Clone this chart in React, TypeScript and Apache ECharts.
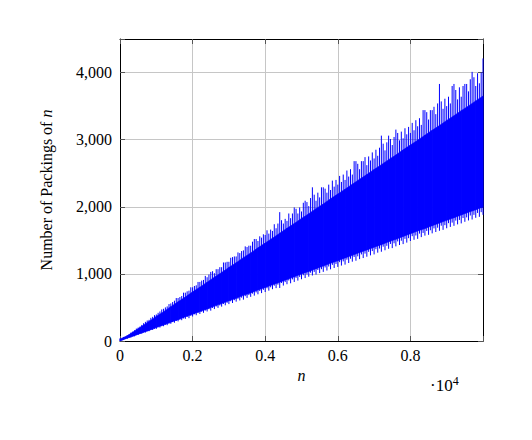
import React, { useEffect, useRef } from "react";
import * as echarts from "echarts";

// Tick labels
const xTickValues = [0, 2000, 4000, 6000, 8000];
const yTickLabels = ["0", "1,000", "2,000", "3,000", "4,000"];

// Oscillation extremes sampled at n = 0, 100, ..., 10000
const hairHigh = [
  40, 60, 85, 125, 160, 200, 240, 285, 315, 360,
  395, 440, 480, 515, 560, 600, 640, 670, 720, 750,
  800, 830, 880, 910, 950, 1030, 1010, 1070, 1100, 1170,
  1180, 1250, 1260, 1310, 1350, 1400, 1420, 1520, 1490, 1540,
  1580, 1600, 1640, 1680, 1920, 1750, 1790, 1830, 1990, 1900,
  1930, 2090, 2010, 2290, 2090, 2140, 2290, 2210, 2250, 2300,
  2330, 2370, 2400, 2450, 2480, 2680, 2560, 2680, 2620, 2690,
  2720, 2760, 3060, 2840, 3060, 2920, 3150, 2990, 3020, 3080,
  3100, 3140, 3200, 3220, 3440, 3300, 3440, 3380, 3830, 3460,
  3500, 3540, 3830, 3600, 3640, 3830, 3720, 4010, 3800, 3840,
  4210,
];
const hairLow = [
  0, 16, 34, 52, 70, 90, 108, 126, 146, 164,
  180, 200, 220, 236, 256, 272, 292, 310, 330, 340,
  365, 384, 402, 420, 440, 452, 476, 494, 512, 532,
  550, 566, 586, 604, 616, 642, 658, 676, 696, 714,
  730, 750, 772, 788, 790, 826, 846, 860, 880, 900,
  920, 938, 958, 976, 990, 1012, 1030, 1050, 1068, 1088,
  1104, 1124, 1138, 1162, 1182, 1196, 1220, 1236, 1256, 1276,
  1290, 1316, 1330, 1352, 1374, 1384, 1410, 1430, 1444, 1466,
  1490, 1508, 1522, 1548, 1570, 1582, 1604, 1624, 1642, 1656,
  1680, 1700, 1716, 1738, 1752, 1776, 1796, 1810, 1836, 1850,
  1880,
];
// Oscillation extremes sampled at n = 50, 150, ..., 9950
const hairHigh2 = [
  35, 62, 100, 140, 185, 215, 265, 305, 345, 385,
  420, 470, 500, 550, 580, 640, 655, 720, 740, 800,
  820, 880, 900, 970, 990, 1040, 1070, 1100, 1170, 1180,
  1240, 1260, 1320, 1340, 1410, 1420, 1480, 1520, 1560, 1590,
  1650, 1660, 1740, 1750, 1800, 1820, 1900, 1900, 1970, 1990,
  2060, 2070, 2130, 2180, 2210, 2290, 2270, 2330, 2390, 2400,
  2460, 2480, 2540, 2560, 2680, 2640, 2680, 2740, 2750, 2810,
  2850, 2880, 2940, 2960, 3010, 3040, 3100, 3120, 3170, 3190,
  3250, 3290, 3320, 3440, 3410, 3440, 3490, 3540, 3570, 3610,
  3640, 3800, 3740, 3780, 3800, 3830, 3900, 3930, 3990, 4000,
];
const hairLow2 = [
  8, 30, 48, 68, 88, 104, 126, 145, 164, 182,
  206, 222, 242, 260, 282, 298, 320, 336, 358, 376,
  398, 416, 436, 454, 474, 492, 514, 530, 552, 568,
  592, 608, 630, 646, 668, 684, 706, 724, 745, 762,
  786, 800, 824, 840, 864, 878, 902, 918, 940, 955,
  980, 992, 1018, 1030, 1058, 1070, 1096, 1110, 1134, 1148,
  1175, 1186, 1212, 1226, 1252, 1262, 1290, 1302, 1328, 1340,
  1368, 1378, 1406, 1418, 1446, 1456, 1484, 1494, 1522, 1532,
  1562, 1572, 1600, 1610, 1640, 1650, 1678, 1688, 1718, 1726,
  1756, 1764, 1794, 1804, 1832, 1842, 1870, 1880, 1908, 1920,
];
const HAIR_STEP = 100;

// Solid core of the band, sampled at n = 0, 200, ..., 10000
const solidLow = [
  0, 42, 80, 121, 158, 200, 238, 281, 318, 360,
  398, 440, 476, 520, 558, 600, 636, 680, 716, 760,
  798, 838, 876, 918, 956, 1000, 1036, 1078, 1118, 1158,
  1196, 1238, 1276, 1318, 1356, 1398, 1436, 1478, 1516, 1558,
  1598, 1640, 1676, 1718, 1758, 1798, 1836, 1878, 1918, 1956,
  1998,
];
const solidHigh = [
  30, 78, 148, 220, 292, 366, 436, 512, 584, 655,
  732, 802, 876, 950, 1020, 1096, 1166, 1242, 1312, 1388,
  1460, 1532, 1606, 1680, 1750, 1826, 1896, 1972, 2042, 2118,
  2190, 2262, 2336, 2410, 2480, 2556, 2626, 2702, 2772, 2848,
  2920, 2992, 3066, 3140, 3210, 3286, 3356, 3432, 3502, 3578,
  3650,
];
const SOLID_STEP = 200;

const BLUE = "#0000ff";
const FONT = "'Liberation Serif', 'DejaVu Serif', serif";

export default function App() {
  const ref = useRef<HTMLDivElement>(null);
  useEffect(() => {
    if (!ref.current) return;
    const chart = echarts.init(ref.current, null, { renderer: "svg" });

    const hairs: number[][] = [
      ...hairHigh.map((h, i) => [i * HAIR_STEP, hairLow[i], h]),
      ...hairHigh2.map((h, i) => [i * HAIR_STEP + HAIR_STEP / 2, hairLow2[i], h]),
    ];
    const bandData = solidHigh.map((h, i) => [i * SOLID_STEP, solidLow[i], h]);

    const gridLine = { show: true, lineStyle: { color: "#c6c6c6", width: 1 } };
    const frame = { show: true, onZero: false, lineStyle: { color: "#000", width: 1 } };
    const tick = { show: true, inside: true, length: 5, lineStyle: { color: "#555" } };

    chart.setOption({
      animation: false,
      grid: { left: 120, right: 49, top: 39, bottom: 99, containLabel: false },
      xAxis: [
        {
          type: "value",
          min: 0,
          max: 10000,
          interval: 2000,
          axisLine: frame,
          axisTick: tick,
          splitLine: gridLine,
          axisLabel: {
            color: "#000",
            fontFamily: FONT,
            fontSize: 16,
            margin: 6,
            formatter: (v: number) =>
              xTickValues.includes(v) ? String(v / 10000) : "",
          },
          name: "{i|n}",
          nameLocation: "middle",
          nameGap: 26,
          nameTextStyle: {
            rich: { i: { fontFamily: FONT, fontStyle: "italic", fontSize: 16, color: "#000" } },
          },
        },
        {
          type: "value",
          position: "top",
          min: 0,
          max: 10000,
          interval: 2000,
          axisLine: frame,
          axisTick: tick,
          axisLabel: { show: false },
          splitLine: { show: false },
        },
      ],
      yAxis: [
        {
          type: "value",
          min: 0,
          max: 4500,
          interval: 1000,
          axisLine: frame,
          axisTick: tick,
          splitLine: gridLine,
          axisLabel: {
            color: "#000",
            fontFamily: FONT,
            fontSize: 16,
            margin: 8,
            formatter: (v: number) => yTickLabels[v / 1000] ?? "",
          },
          name: "Number of Packings of {i|n}",
          nameLocation: "middle",
          nameGap: 66,
          nameRotate: 90,
          nameTextStyle: {
            fontFamily: FONT,
            fontSize: 16,
            color: "#000",
            rich: { i: { fontFamily: FONT, fontStyle: "italic", fontSize: 16, color: "#000" } },
          },
        },
        {
          type: "value",
          position: "right",
          min: 0,
          max: 4500,
          interval: 1000,
          axisLine: frame,
          axisTick: tick,
          axisLabel: { show: false },
          splitLine: { show: false },
        },
      ],
      graphic: [
        {
          type: "text",
          left: 430,
          top: 375,
          style: {
            text: "·10{s|4}",
            font: `17px ${FONT}`,
            fill: "#000",
            rich: {
              s: { fontFamily: FONT, fontSize: 12, verticalAlign: "top", padding: [0, 0, 8, 0], fill: "#000" },
            },
          },
        },
      ],
      series: [
        {
          // solid core of the band: one quad between consecutive samples
          type: "custom",
          data: bandData,
          encode: { x: 0, y: [1, 2] },
          silent: true,
          z: 2,
          renderItem: (params: any, api: any) => {
            const i = params.dataIndex;
            if (i >= solidHigh.length - 1) return null;
            const n0 = i * SOLID_STEP;
            const n1 = (i + 1) * SOLID_STEP;
            const a = api.coord([n0, solidLow[i]]);
            const b = api.coord([n1, solidLow[i + 1]]);
            const c = api.coord([n1, solidHigh[i + 1]]);
            const d = api.coord([n0, solidHigh[i]]);
            return {
              type: "polygon",
              shape: { points: [a, b, c, d] },
              style: { fill: BLUE, stroke: BLUE, lineWidth: 0.6 },
            };
          },
        },
        {
          // oscillation extremes drawn as thin vertical hairs
          type: "custom",
          data: hairs,
          encode: { x: 0, y: [1, 2] },
          silent: true,
          z: 3,
          renderItem: (params: any, api: any) => {
            const h = hairs[params.dataIndex];
            const p1 = api.coord([h[0], h[1]]);
            const p2 = api.coord([h[0], h[2]]);
            return {
              type: "line",
              shape: { x1: p1[0], y1: p1[1], x2: p2[0], y2: p2[1] },
              style: { stroke: BLUE, lineWidth: 1 },
            };
          },
        },
      ],
    });
    return () => chart.dispose();
  }, []);
  return (
    <div
      ref={ref}
      style={{ position: "absolute", left: 0, top: 0, width: 532, height: 440, background: "#fff" }}
    />
  );
}
